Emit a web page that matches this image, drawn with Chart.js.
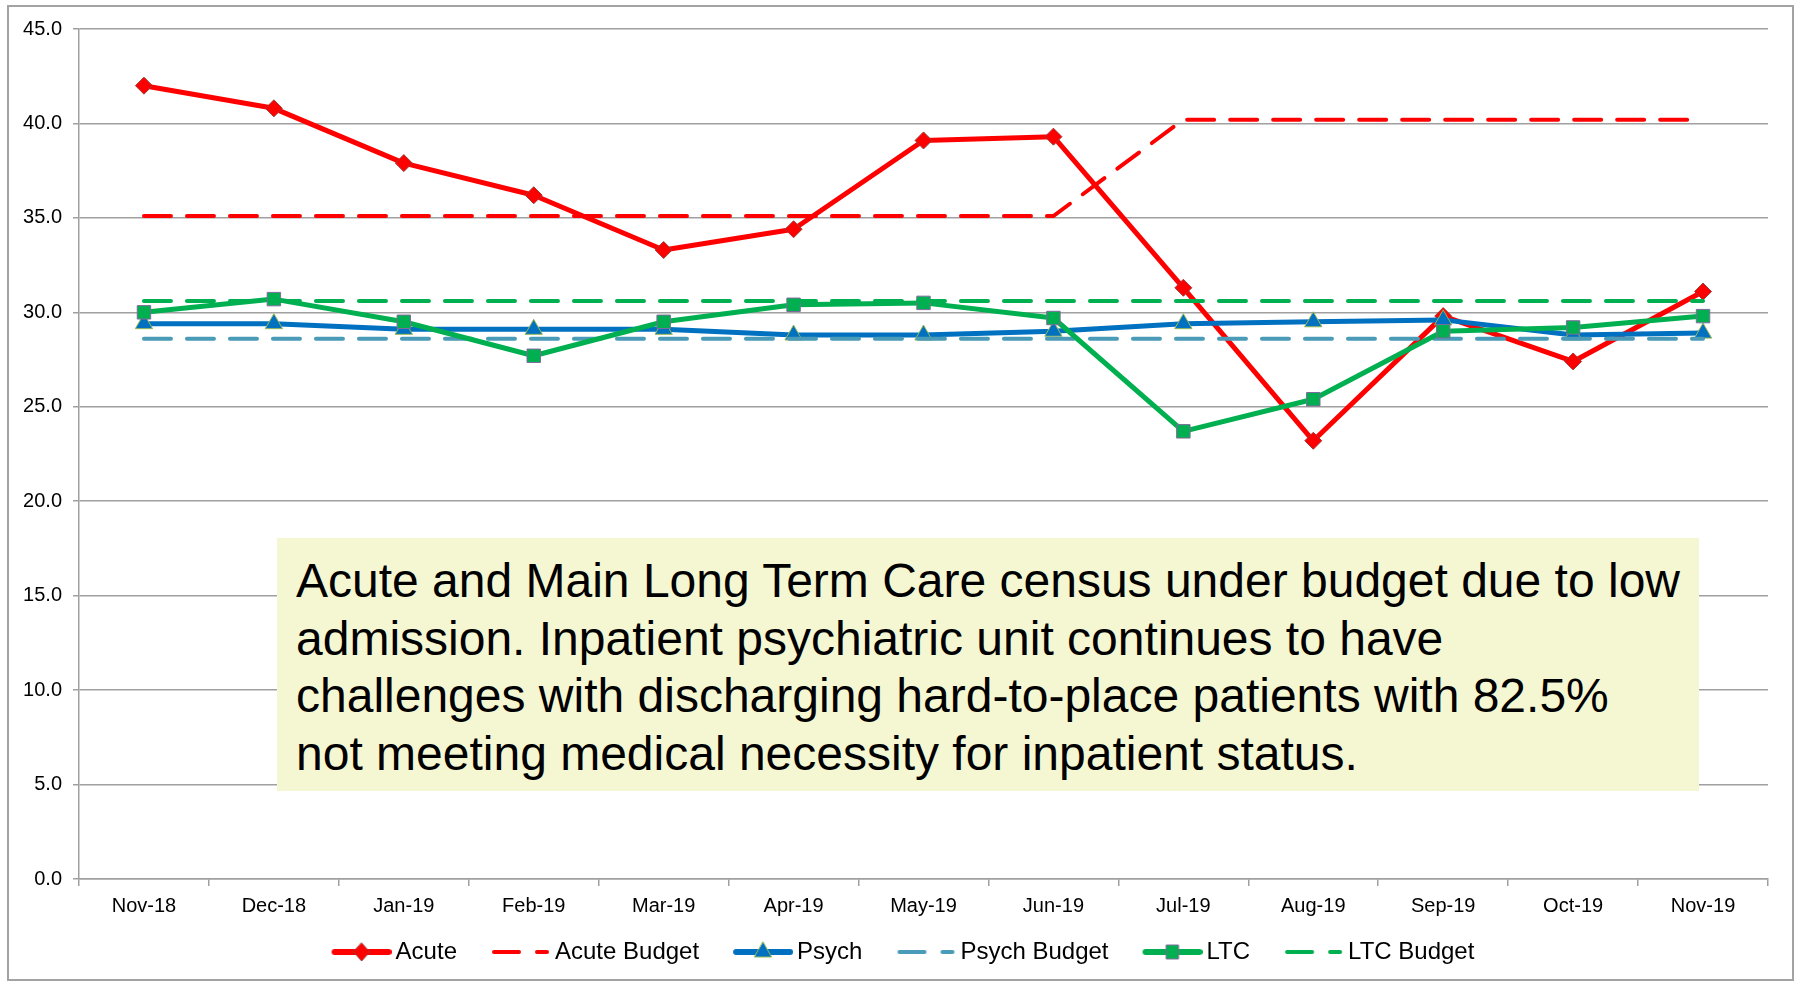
<!DOCTYPE html>
<html>
<head>
<meta charset="utf-8">
<script src="https://cdn.jsdelivr.net/npm/chart.js"></script>
<style>
  body { margin: 0; background: #fff; }
  .wrap { position: relative; width: 1802px; height: 983px; }
  .frame { position: absolute; left: 7px; top: 5px; width: 1783px; height: 972px; border: 2px solid #a3a3a3; pointer-events: none; }
  .note {
    position: absolute; left: 277px; top: 538px; width: 1422px; height: 253px;
    box-sizing: border-box; padding: 14px 0 0 19px;
    background: #f5f7d3; color: #000;
    font: 48px/57.5px "Liberation Sans", Arial, sans-serif;
    white-space: nowrap;
  }
</style>
</head>
<body>
<div class="wrap">
  <canvas id="census"></canvas>
  <div class="frame"></div>
  <div class="note">Acute and Main Long Term Care census under budget due to low<br>admission. Inpatient psychiatric unit continues to have<br>challenges with discharging hard-to-place patients with 82.5%<br>not meeting medical necessity for inpatient status.</div>
</div>
<script>
"use strict"

const months = ["Nov-18", "Dec-18", "Jan-19", "Feb-19", "Mar-19", "Apr-19", "May-19", "Jun-19", "Jul-19", "Aug-19", "Sep-19", "Oct-19", "Nov-19"]
const acute = [42.0, 40.8, 37.9, 36.2, 33.3, 34.4, 39.1, 39.3, 31.3, 23.2, 29.8, 27.4, 31.1]
const acuteBudget = [35.1, 35.1, 35.1, 35.1, 35.1, 35.1, 35.1, 35.1, 40.2, 40.2, 40.2, 40.2, 40.2]
const psych = [29.4, 29.4, 29.1, 29.1, 29.1, 28.8, 28.8, 29.0, 29.4, 29.5, 29.6, 28.8, 28.9]
const psychBudget = [28.6, 28.6, 28.6, 28.6, 28.6, 28.6, 28.6, 28.6, 28.6, 28.6, 28.6, 28.6, 28.6]
const ltc = [30.0, 30.7, 29.5, 27.7, 29.5, 30.4, 30.5, 29.7, 23.7, 25.4, 29.0, 29.2, 29.8]
const ltcBudget = [30.6, 30.6, 30.6, 30.6, 30.6, 30.6, 30.6, 30.6, 30.6, 30.6, 30.6, 30.6, 30.6]
const yTicks = [0, 45, 5]

const RED = "#ff0000", BLUE = "#0070c0", TEAL = "#4a9bb7", GREEN = "#00b050"
const BOX = 81

// legend sample: short line with the marker in the middle
function legendSample(color, dashed, shape, edge) {
  const c = document.createElement("canvas")
  c.width = BOX + 16
  c.height = 24
  const ctx = c.getContext("2d")
  const x0 = c.width - 60, cy = 12, cx = x0 + 30
  ctx.strokeStyle = color
  ctx.lineCap = "round"
  ctx.beginPath()
  if (dashed) {
    ctx.lineWidth = 4
    ctx.moveTo(x0 + 3, cy); ctx.lineTo(x0 + 28, cy)
    ctx.moveTo(x0 + 46, cy); ctx.lineTo(x0 + 56, cy)
  } else {
    ctx.lineWidth = 6
    ctx.moveTo(x0 + 3, cy); ctx.lineTo(x0 + 57, cy)
  }
  ctx.stroke()
  if (shape) {
    ctx.beginPath()
    if (shape === "diamond") {
      ctx.moveTo(cx, cy - 9); ctx.lineTo(cx + 8, cy); ctx.lineTo(cx, cy + 9); ctx.lineTo(cx - 8, cy)
    } else if (shape === "triangle") {
      ctx.moveTo(cx, cy - 10); ctx.lineTo(cx + 8.5, cy + 5); ctx.lineTo(cx - 8.5, cy + 5)
    } else {
      ctx.rect(cx - 6, cy - 7, 12, 14)
    }
    ctx.closePath()
    ctx.fillStyle = color
    ctx.fill()
    ctx.lineWidth = 1
    ctx.strokeStyle = edge
    ctx.stroke()
  }
  return c
}

function solid(label, data, color, style, radius, edge, order) {
  return {
    label, data, order,
    borderColor: color, backgroundColor: color, borderWidth: 5,
    borderJoinStyle: "round",
    pointStyle: style, pointRadius: radius, pointHoverRadius: radius,
    pointBackgroundColor: color, pointBorderColor: edge, pointBorderWidth: 1,
    fill: false, tension: 0
  }
}

function dashed(label, data, color, order) {
  return {
    label, data, order,
    borderColor: color, backgroundColor: color, borderWidth: 4,
    borderDash: [27, 16], borderCapStyle: "round",
    pointRadius: 0, pointHoverRadius: 0, fill: false, tension: 0
  }
}

const samples = [
  legendSample(RED, false, "diamond", "#9c3b3a"),
  legendSample(RED, true),
  legendSample(BLUE, false, "triangle", "#98b954"),
  legendSample(TEAL, true),
  legendSample(GREEN, false, "square", "#7f6a9e"),
  legendSample(GREEN, true)
]

new Chart(document.getElementById("census"), {
  type: "line",
  data: {
    labels: months,
    datasets: [
      solid("Acute", acute, RED, "rectRot", 8.5, "#9c3b3a", 6),
      dashed("Acute Budget", acuteBudget, RED, 5),
      solid("Psych", psych, BLUE, "triangle", 10, "#98b954", 4),
      dashed("Psych Budget", psychBudget, TEAL, 3),
      solid("LTC", ltc, GREEN, "rect", 9.5, "#7f6a9e", 2),
      dashed("LTC Budget", ltcBudget, GREEN, 1)
    ]
  },
  options: {
    responsive: true,
    maintainAspectRatio: false,
    animation: false,
    layout: { padding: { left: 9, top: 29, right: 34, bottom: 9 } },
    scales: {
      x: {
        offset: true,
        grid: { offset: true, drawOnChartArea: false, drawTicks: true, tickLength: 7, color: "#a0a0a0", lineWidth: 1.5 },
        border: { color: "#a0a0a0", width: 1.5 },
        ticks: { color: "#000", padding: 8, maxRotation: 0, font: { family: "Liberation Sans", size: 20 } },
        afterFit: scale => { scale.height = 56 }
      },
      y: {
        min: yTicks[0], max: yTicks[1],
        grid: { color: "#a0a0a0", lineWidth: 1.5, tickLength: 6 },
        border: { color: "#a0a0a0", width: 1.5 },
        ticks: {
          stepSize: yTicks[2], color: "#000", padding: 11,
          font: { family: "Liberation Sans", size: 20 },
          callback: v => v.toFixed(1)
        },
        afterFit: scale => { scale.width = 70 }
      }
    },
    plugins: {
      tooltip: { enabled: false },
      legend: {
        position: "bottom",
        labels: {
          usePointStyle: true,
          pointStyleWidth: BOX,
          padding: 5,
          color: "#000",
          font: { family: "Liberation Sans", size: 24 },
          generateLabels: chart => chart.data.datasets.map((ds, i) => ({
            text: ds.label,
            datasetIndex: i,
            pointStyle: samples[i],
            fillStyle: ds.borderColor,
            strokeStyle: ds.borderColor,
            lineWidth: 0,
            hidden: false,
            fontColor: "#000"
          }))
        }
      }
    }
  }
})
</script>
</body>
</html>
